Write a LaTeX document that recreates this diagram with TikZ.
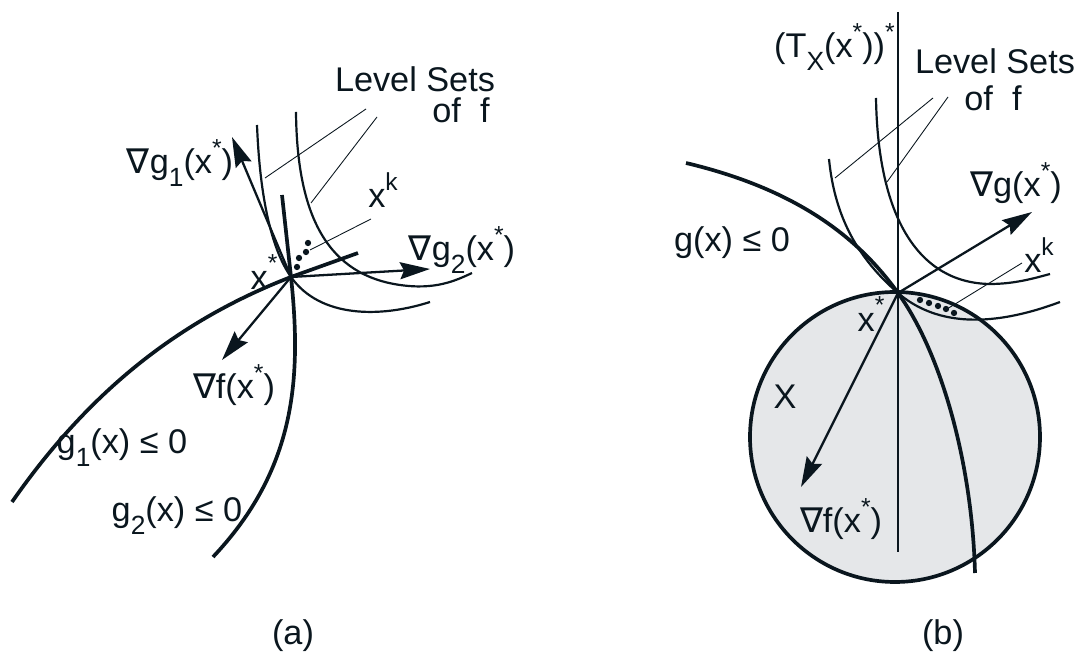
\documentclass[tikz,border=0pt]{standalone}
\usepackage{fontspec}
\setmainfont{Liberation Sans}
\newfontfamily\symf{DejaVu Sans}
\usetikzlibrary{arrows.meta}
\newcommand{\nab}{{\symf ∇}}
\newcommand{\lo}[1]{\raisebox{-0.38em}{\fontsize{15}{15}\selectfont #1}}
\newcommand{\hi}[1]{\raisebox{0.5em}{\fontsize{14}{14}\selectfont #1}}
\definecolor{setgray}{RGB}{229,231,233}
\definecolor{ink}{RGB}{10,22,30}

\begin{document}
\begin{tikzpicture}[
    x=0.02cm, y=-0.02cm,
    lbl/.style={inner sep=0pt, text=ink, font=\fontsize{19.5}{22}\selectfont},
    bound/.style={draw=ink, line width=2.1pt},
    level/.style={draw=ink, line width=1.25pt},
    lead/.style={draw=ink, line width=0.5pt},
    vec/.style={draw=ink, line width=1.3pt, -{Stealth[length=0.6cm, width=0.34cm, inset=0.08cm]}},
    pt/.style={fill=ink, circle, inner sep=0pt, minimum size=3.6pt}
  ]
    \useasboundingbox (0,0) rectangle (1076,671);

    % (a)
    \coordinate (xa) at (291,277);
    \coordinate (ga1) at (232,137);
    \coordinate (ga2) at (430,269);
    \coordinate (fa) at (222,360);
    \draw[bound] (12,502) .. controls (90,390) and (180,320) .. (xa) -- (358,253);
    \draw[bound] (282,195) -- (xa) .. controls (302,380) and (295,470) .. (213,557);
    \draw[level] (257,125) .. controls (260,200) and (272,250) .. (xa) .. controls (320,318) and (380,318) .. (430,302);
    \draw[level] (296,112) .. controls (297,220) and (330,275) .. (400,285) .. controls (435,290) and (455,281) .. (472,273);
    \draw[vec] (xa) -- (ga1);
    \draw[vec] (xa) -- (ga2);
    \draw[vec] (xa) -- (fa);
    \foreach \p in {(297,267),(299,258),(306,252),(308,243)}
      \node[pt] at \p {};

    \node[lbl] (lsa) at (415,79) {Level Sets};
    \node[lbl] (ofa) at (461,110) {of\ \ f};
    \node[lbl] (nga1) at (180,163) {\nab g\lo{1}(x\hi{*})};
    \node[lbl] (xka) at (383,190) {x\hi{k}};
    \node[lbl] (xsa) at (264,272) {x\hi{*}};
    \node[lbl] (nga2) at (462,250) {\nab g\lo{2}(x\hi{*})};
    \node[lbl] (nfa) at (234,385) {\nab f(x\hi{*})};
    \node[lbl] (c1a) at (122,448) {g\lo{1}(x) ≤ 0};
    \node[lbl] (c2a) at (177,516) {g\lo{2}(x) ≤ 0};
    \node[lbl] (capa) at (293,636) {(a)};
    \coordinate (la1) at (265,178);
    \coordinate (la2) at (311,203);
    \coordinate (lak) at (310,250);
    \draw[lead] (366,109) -- (la1);
    \draw[lead] (377,117) -- (la2);
    \draw[lead] (371,219) -- (lak);

    % (b)
    \coordinate (xb) at (898,293);
    \coordinate (gb) at (1032,212);
    \coordinate (fb) at (801,487);
    \coordinate (ttop) at (898,12);
    \coordinate (tbot) at (898,552);
    \filldraw[fill=setgray, draw=ink, line width=2.1pt] (895,437) circle [radius=145];
    \draw[level] (ttop) -- (tbot);
    \draw[bound] (686,163) .. controls (800,190) and (860,240) .. (xb) .. controls (940,351) and (972,460) .. (975,573);
    \draw[level] (829,159) .. controls (835,220) and (860,260) .. (xb) .. controls (933,323) and (985,330) .. (1060,302);
    \draw[level] (876,98) .. controls (878,220) and (920,283) .. (990,284) .. controls (1015,284) and (1035,278) .. (1050,274);
    \draw[vec] (xb) -- (gb);
    \draw[vec] (xb) -- (fb);
    \foreach \p in {(920,300),(929,303),(938,306),(946,309),(954,313)}
      \node[pt] at \p {};

    \node[lbl, anchor=east] (tx) at (895,47) {(T\lo{X}(x\hi{*}))\hi{*}};
    \node[lbl] (lsb) at (995,61) {Level Sets};
    \node[lbl] (ofb) at (993,98) {of\ \ f};
    \node[lbl] (ngb) at (1016,183) {\nab g(x\hi{*})};
    \node[lbl] (cb) at (732,243) {g(x) ≤ 0};
    \node[lbl] (xkb) at (1039,255) {x\hi{k}};
    \node[lbl] (xsb) at (871,314) {x\hi{*}};
    \node[lbl] (setx) at (785,397) {X};
    \node[lbl] (nfb) at (841,519) {\nab f(x\hi{*})};
    \node[lbl] (capb) at (943,636) {(b)};
    \coordinate (lb1) at (835,178);
    \coordinate (lb2) at (887,182);
    \coordinate (lbk) at (947,309);
    \draw[lead] (933,98) -- (lb1);
    \draw[lead] (948,97) -- (lb2);
    \draw[lead] (1022,263) -- (lbk);
  \end{tikzpicture}
\end{document}
